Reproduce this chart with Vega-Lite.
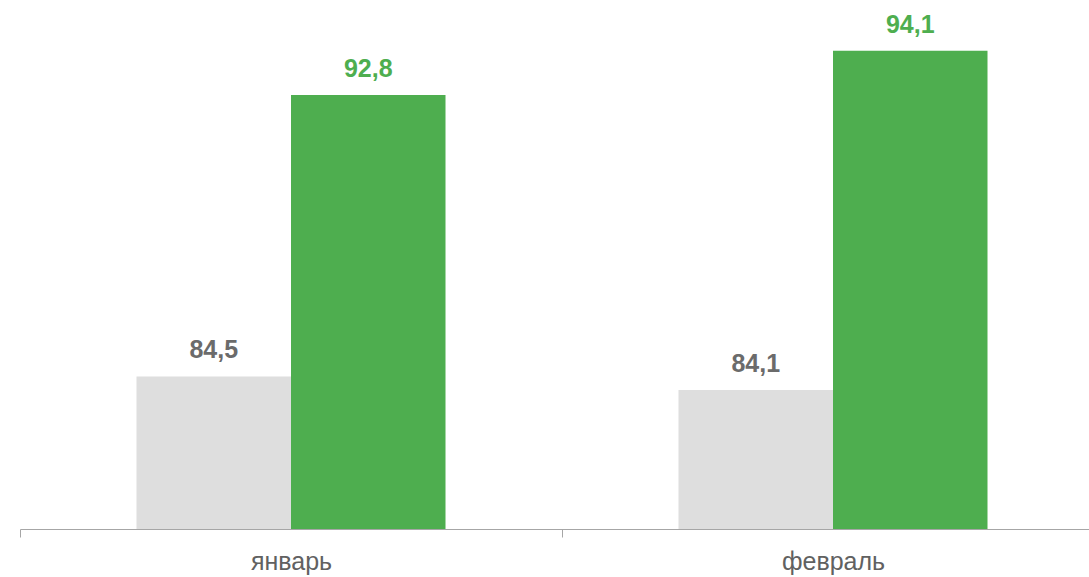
{
  "$schema": "https://vega.github.io/schema/vega-lite/v6.json",
  "width": 1069,
  "height": 529,
  "autosize": {"type": "none"},
  "padding": {"left": 20, "top": 0, "right": 0, "bottom": 48},
  "background": "white",
  "config": {"view": {"stroke": null}, "font": "Liberation Sans"},
  "data": {"values": [
    {"month": "январь", "series": "prev", "value": 84.5, "label": "84,5"},
    {"month": "январь", "series": "curr", "value": 92.8, "label": "92,8"},
    {"month": "февраль", "series": "prev", "value": 84.1, "label": "84,1"},
    {"month": "февраль", "series": "curr", "value": 94.1, "label": "94,1"}
  ]},
  "encoding": {
    "x": {"field": "month", "type": "nominal", "sort": ["январь", "февраль"],
      "scale": {"range": [0, 1084], "paddingInner": 0, "paddingOuter": 0},
      "axis": {"title": null, "labelAngle": 0, "labelFontSize": 25, "labelColor": "#616161", "labelPadding": 12,
        "domainColor": "#a6a6a6", "tickColor": "#a6a6a6", "tickSize": 8, "tickBand": "extent", "labelFont": "Liberation Sans"}},
    "xOffset": {"field": "series", "type": "nominal", "sort": ["prev", "curr"], "scale": {"paddingInner": 0, "paddingOuter": 0.754}},
    "y": {"field": "value", "type": "quantitative", "scale": {"domain": [80, 95.6], "zero": false, "nice": false, "clamp": true}, "axis": null}
  },
  "layer": [
    {"mark": {"type": "bar", "clip": true},
      "encoding": {
        "y2": {"datum": 80},
        "color": {"field": "series", "type": "nominal", "scale": {"domain": ["prev", "curr"], "range": ["#dedede", "#4eae4f"]}, "legend": null}
      }},
    {"mark": {"type": "text", "fontSize": 25, "fontWeight": "bold", "dy": -18, "baseline": "alphabetic", "font": "Liberation Sans"},
      "encoding": {
        "text": {"field": "label"},
        "color": {"field": "series", "type": "nominal", "scale": {"domain": ["prev", "curr"], "range": ["#6b6b6b", "#4eae4f"]}, "legend": null}
      }}
  ],
  "resolve": {"scale": {"color": "independent"}}
}
